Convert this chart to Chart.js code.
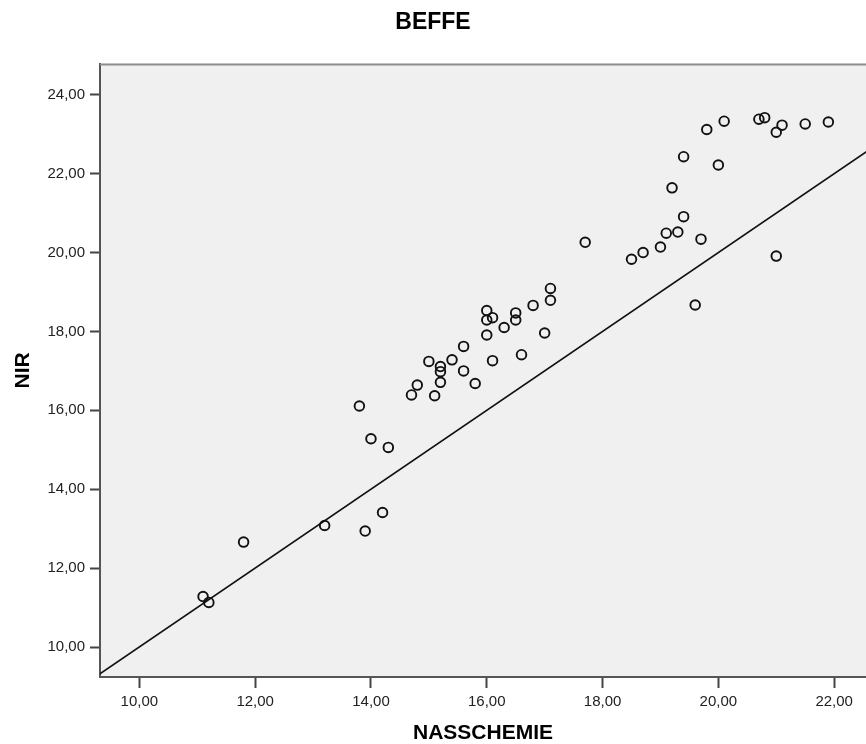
<!DOCTYPE html>
<html>
<head>
<meta charset="utf-8">
<title>BEFFE</title>
<script src="https://cdn.jsdelivr.net/npm/chart.js@4/dist/chart.umd.min.js"></script>
<style>
  html, body { margin: 0; padding: 0; background: #fff; }
  #wrap { width: 866px; height: 744px; }
</style>
</head>
<body>
<div id="wrap"><canvas id="beffeChart" width="866" height="744"></canvas></div>
<script>
// NASSCHEMIE (x) vs NIR (y), one entry per sample
const nassChemie = [
  11.1, 11.2, 11.8, 13.2, 13.9, 14.2, 13.8, 14.0, 14.3, 14.7,
  14.8, 15.1, 15.0, 15.2, 15.2, 15.2, 15.4, 15.6, 15.6, 15.8,
  16.0, 16.0, 16.0, 16.1, 16.1, 16.3, 16.5, 16.5, 16.6, 16.8,
  17.0, 17.1, 17.1, 17.7, 18.5, 18.7, 19.0, 19.1, 19.3, 19.4,
  19.2, 19.4, 19.7, 19.6, 19.8, 20.0, 20.1, 20.7, 20.8, 21.0,
  21.0, 21.1, 21.5, 21.9
];
const nir = [
  11.28, 11.13, 12.66, 13.08, 12.94, 13.41, 16.11, 15.28, 15.06, 16.39,
  16.64, 16.37, 17.24, 17.11, 16.98, 16.71, 17.28, 17.62, 17.00, 16.68,
  18.53, 18.29, 17.91, 18.35, 17.26, 18.10, 18.47, 18.29, 17.41, 18.66,
  17.96, 19.09, 18.79, 20.26, 19.83, 20.00, 20.14, 20.49, 20.52, 20.91,
  21.64, 22.43, 20.34, 18.67, 23.12, 22.22, 23.33, 23.38, 23.42, 19.91,
  23.05, 23.23, 23.26, 23.31
];

// reference line y = x, clipped by the plot area
const refLine = [8, 24];

const xTickValues = [10, 12, 14, 16, 18, 20, 22];
const yTickValues = [10, 12, 14, 16, 18, 20, 22, 24];

const points = nassChemie.map((v, i) => ({ x: v, y: nir[i] }));
const linePoints = refLine.map(v => ({ x: v, y: v }));

const fmt = v => Number(v).toFixed(2).replace('.', ',');

// grey plot background plus the top frame line
const plotFrame = {
  id: 'plotFrame',
  beforeDraw(chart) {
    const { ctx, chartArea: a } = chart;
    ctx.save();
    ctx.fillStyle = '#f0f0f0';
    ctx.fillRect(a.left, a.top, a.right - a.left, a.bottom - a.top);
    ctx.restore();
  },
  afterDraw(chart) {
    const { ctx, chartArea: a } = chart;
    ctx.save();
    ctx.strokeStyle = '#8c8c8c';
    ctx.lineWidth = 2;
    ctx.beginPath();
    ctx.moveTo(a.left, a.top + 1);
    ctx.lineTo(a.right, a.top + 1);
    ctx.stroke();
    ctx.restore();
  }
};

const ctx = document.getElementById('beffeChart').getContext('2d');

const chart = new Chart(ctx, {
  type: 'scatter',
  data: {
    datasets: [
      {
        label: 'NIR',
        data: points,
        pointStyle: 'circle',
        pointRadius: 4.8,
        pointHoverRadius: 4.8,
        pointBorderWidth: 1.9,
        pointBorderColor: '#111',
        pointBackgroundColor: 'rgba(0,0,0,0)',
        showLine: false
      },
      {
        label: 'y = x',
        data: linePoints,
        showLine: true,
        borderColor: '#111',
        borderWidth: 1.7,
        pointRadius: 0,
        fill: false
      }
    ]
  },
  options: {
    responsive: false,
    animation: false,
    layout: { padding: 0, autoPadding: false },
    plugins: {
      legend: { display: false },
      tooltip: { enabled: false },
      title: {
        display: true,
        text: 'BEFFE',
        color: '#000',
        font: { family: 'Liberation Sans, Arial, sans-serif', size: 23, weight: 'bold', lineHeight: 1.2 },
        padding: { top: 9, bottom: 27 }
      }
    },
    scales: {
      x: {
        type: 'linear',
        position: 'bottom',
        min: 9.32,
        max: 22.55,
        afterFit: s => { s.height = 67; s.paddingLeft = 0; s.paddingRight = 0; },
        afterBuildTicks: s => { s.ticks = xTickValues.map(v => ({ value: v })); },
        ticks: {
          callback: fmt,
          color: '#222',
          padding: 5,
          maxRotation: 0,
          font: { family: 'Liberation Sans, Arial, sans-serif', size: 15 }
        },
        grid: {
          drawOnChartArea: false,
          drawTicks: true,
          tickLength: 11,
          tickColor: '#444',
          tickWidth: 2
        },
        border: { display: true, color: '#555', width: 2 },
        title: {
          display: true,
          text: 'NASSCHEMIE',
          color: '#000',
          font: { family: 'Liberation Sans, Arial, sans-serif', size: 21, weight: 'bold', lineHeight: 1 },
          padding: { top: 0, bottom: 0 }
        }
      },
      y: {
        type: 'linear',
        position: 'left',
        min: 9.24,
        max: 24.79,
        afterFit: s => { s.width = 100; s.paddingTop = 0; s.paddingBottom = 0; },
        afterBuildTicks: s => { s.ticks = yTickValues.map(v => ({ value: v })); },
        ticks: {
          callback: fmt,
          color: '#222',
          padding: 5,
          font: { family: 'Liberation Sans, Arial, sans-serif', size: 15 }
        },
        grid: {
          drawOnChartArea: false,
          drawTicks: true,
          tickLength: 10,
          tickColor: '#444',
          tickWidth: 2
        },
        border: { display: true, color: '#555', width: 2 },
        title: {
          display: true,
          text: 'NIR',
          color: '#000',
          font: { family: 'Liberation Sans, Arial, sans-serif', size: 21, weight: 'bold', lineHeight: 1 },
          padding: { top: 13, bottom: 0 }
        }
      }
    }
  },
  plugins: [plotFrame]
});
</script>
</body>
</html>
